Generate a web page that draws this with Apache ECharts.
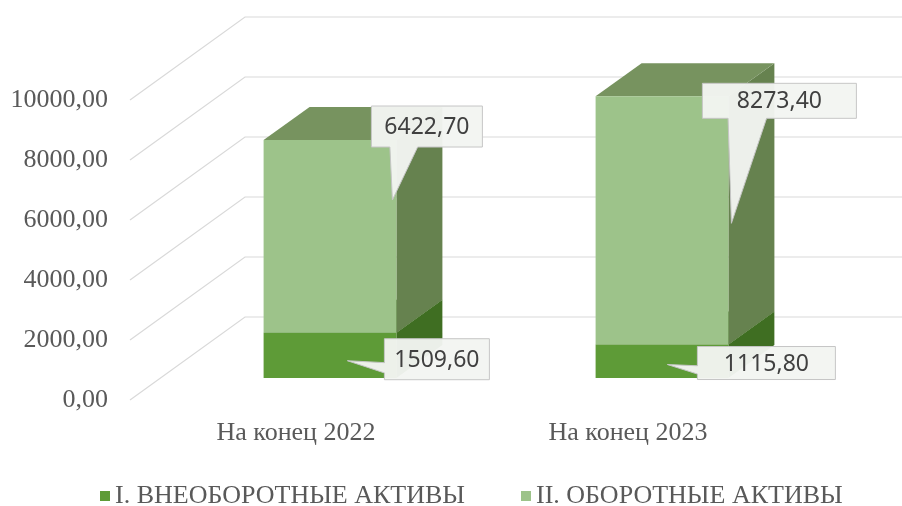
<!DOCTYPE html>
<html>
<head>
<meta charset="utf-8">
<script src="https://cdn.jsdelivr.net/npm/echarts/dist/echarts.min.js"></script>
<style>
  html, body { margin: 0; padding: 0; background: #ffffff; }
  #chart { width: 902px; height: 506px; }
</style>
</head>
<body>
<div id="chart"></div>
<script>
// ---- data ----
const categories = ['На конец 2022', 'На конец 2023'];
const seriesNames = ['I. ВНЕОБОРОТНЫЕ АКТИВЫ', 'II. ОБОРОТНЫЕ АКТИВЫ'];
const nonCurrentAssets = [1509.60, 1115.80];
const currentAssets = [6422.70, 8273.40];
const yTicks = [0, 2000, 4000, 6000, 8000, 10000];

// ---- 3D look (oblique projection) ----
const WALL_DX = 115, WALL_DY = 83;     // depth of the back wall
const FRONT_DX = 34, FRONT_DY = 22;    // bar front face offset from the floor edge
const BAR_DX = 46, BAR_DY = 33;        // depth of each bar
const BAR_RATIO = 0.4;
const SERIF = '"Liberation Serif", "Times New Roman", serif';

const faces = [
  { front: '#5E9B37', side: '#3F6E22', top: '#4E7F30' },
  { front: '#9DC38A', side: '#66824F', top: '#77935F' }
];

// callout placement relative to the segment's front top-right corner
const calloutLayout = [
  [ { tip: [-49, 28], box: [-12, 6], size: [105, 41] },
    { tip: [-61, 20], box: [-31, 2], size: [138, 33] } ],
  [ { tip: [-4, 60], box: [-25, -34], size: [111, 41] },
    { tip: [3, 127], box: [-26, -13], size: [154, 35] } ]
];

const fmt = v => v.toFixed(2).replace('.', ',');

// rectangular callout with a wedge pointing at (tx, ty)
function calloutPoints(tx, ty, bx, by, w, h) {
  const hc = bx + w / 2, vc = by + h / 2;
  const dx = tx - hc, dy = ty - vc;
  const dq = dx * h / w;
  const dz = Math.abs(dy) - Math.abs(dq);
  const x1 = bx + w * (dx > 0 ? 7 : 2) / 12, x2 = bx + w * (dx > 0 ? 10 : 5) / 12;
  const y1 = by + h * (dy > 0 ? 7 : 2) / 12, y2 = by + h * (dy > 0 ? 10 : 5) / 12;
  const pts = [[bx, by]];
  if (dz > 0 && dy < 0) pts.push([x1, by], [tx, ty], [x2, by]);
  pts.push([bx + w, by]);
  if (dz <= 0 && dx > 0) pts.push([bx + w, y1], [tx, ty], [bx + w, y2]);
  pts.push([bx + w, by + h]);
  if (dz > 0 && dy > 0) pts.push([x2, by + h], [tx, ty], [x1, by + h]);
  pts.push([bx, by + h]);
  if (dz <= 0 && dx < 0) pts.push([bx, y2], [tx, ty], [bx, y1]);
  return pts;
}

function makeBarRenderer(si) {
  return function (params, api) {
    const ci = api.value(0);
    const base = api.value(1);
    const top = api.value(2);
    const pb = api.coord([ci, base]);
    const pt = api.coord([ci, top]);
    const bw = api.size([1, 0])[0] * BAR_RATIO;
    const x0 = pb[0] - bw / 2 + FRONT_DX;
    const x1 = x0 + bw;
    const yb = pb[1] - FRONT_DY;
    const yt = pt[1] - FRONT_DY;
    const f = faces[si];
    const children = [
      { type: 'polygon', shape: { points: [[x1, yb], [x1 + BAR_DX, yb - BAR_DY], [x1 + BAR_DX, yt - BAR_DY], [x1, yt]] },
        style: { fill: f.side } },
      { type: 'polygon', shape: { points: [[x0, yt], [x0 + BAR_DX, yt - BAR_DY], [x1 + BAR_DX, yt - BAR_DY], [x1, yt]] },
        style: { fill: f.top } },
      { type: 'rect', shape: { x: x0, y: yt, width: bw, height: yb - yt },
        style: { fill: f.front } }
    ];
    const L = calloutLayout[si][params.dataIndex];
    const tx = x1 + L.tip[0], ty = yt + L.tip[1];
    const bx = x1 + L.box[0], by = yt + L.box[1];
    const [w, h] = L.size;
    children.push({
      type: 'polygon', z2: 100,
      shape: { points: calloutPoints(tx, ty, bx, by, w, h) },
      style: { fill: 'rgba(243,245,241,0.96)', stroke: '#C6C6C6', lineWidth: 1 }
    });
    children.push({
      type: 'text', z2: 101,
      style: {
        x: bx + w / 2, y: by + h / 2 + 1,
        text: fmt(top - base),
        align: 'center', verticalAlign: 'middle',
        font: '23px "Noto Sans", sans-serif', fill: '#404040'
      }
    });
    return { type: 'group', children };
  };
}

const chart = echarts.init(document.getElementById('chart'));

chart.setOption({
  animation: false,
  backgroundColor: '#ffffff',
  textStyle: { fontFamily: SERIF },
  grid: { left: 130, right: 108, top: 100, bottom: 106, containLabel: false },
  legend: {
    left: 95, top: 478,
    icon: 'rect', itemWidth: 10, itemHeight: 10, itemGap: 56,
    data: seriesNames,
    formatter: '{t|{name}}',
    textStyle: {
      fontFamily: SERIF, fontSize: 26, color: '#595959',
      rich: { t: { fontFamily: SERIF, fontSize: 26, color: '#595959' } }
    }
  },
  xAxis: {
    type: 'category',
    data: categories,
    axisLine: { show: false },
    axisTick: { show: false },
    axisLabel: { margin: 20, fontFamily: SERIF, fontSize: 26, color: '#595959' }
  },
  yAxis: {
    type: 'value',
    min: 0, max: 10000, interval: 2000,
    axisLine: { show: false },
    axisTick: { show: false },
    splitLine: { show: false },
    axisLabel: { margin: 22, formatter: v => fmt(v),
      fontFamily: SERIF, fontSize: 26, color: '#595959' }
  },
  series: [
    {
      type: 'custom', name: 'walls', z: 1, clip: false, silent: true,
      encode: { x: 0, y: 1 },
      data: yTicks.map(v => [0, v]),
      renderItem: function (params, api) {
        const cs = params.coordSys;
        const y = api.coord([0, api.value(1)])[1];
        const xf = cs.x;
        return {
          type: 'polyline',
          shape: { points: [[xf, y], [xf + WALL_DX, y - WALL_DY], [cs.x + cs.width + WALL_DX + 60, y - WALL_DY]] },
          style: { stroke: '#D9D9D9', lineWidth: 1.2, fill: null }
        };
      }
    },
    {
      type: 'custom', name: seriesNames[0], z: 2, clip: false,
      itemStyle: { color: faces[0].front },
      encode: { x: 0, y: [1, 2] },
      data: categories.map((c, i) => [i, 0, nonCurrentAssets[i]]),
      renderItem: makeBarRenderer(0)
    },
    {
      type: 'custom', name: seriesNames[1], z: 2, clip: false,
      itemStyle: { color: faces[1].front },
      encode: { x: 0, y: [1, 2] },
      data: categories.map((c, i) => [i, nonCurrentAssets[i], nonCurrentAssets[i] + currentAssets[i]]),
      renderItem: makeBarRenderer(1)
    }
  ]
});
</script>
</body>
</html>
